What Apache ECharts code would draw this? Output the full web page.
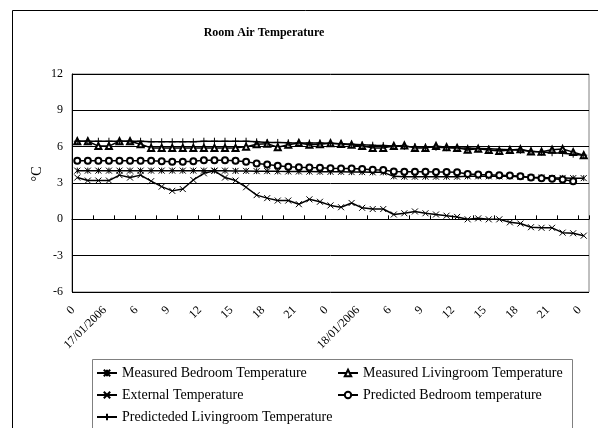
<!DOCTYPE html>
<html>
<head>
<meta charset="utf-8">
<script src="https://cdn.jsdelivr.net/npm/echarts@6/dist/echarts.min.js"></script>
<style>
  html, body { margin: 0; padding: 0; background: #fff; }
  #chart { width: 598px; height: 428px; }
</style>
</head>
<body>
<div id="chart"></div>
<script>
// hourly readings, 17/01/2006 00:00 to 19/01/2006 00:00
var hours = ['0', '1', '2', '17/01/2006', '4', '5', '6', '7', '8', '9', '10', '11',
  '12', '13', '14', '15', '16', '17', '18', '19', '20', '21', '22', '23',
  '0', '1', '2', '18/01/2006', '4', '5', '6', '7', '8', '9', '10', '11',
  '12', '13', '14', '15', '16', '17', '18', '19', '20', '21', '22', '23', '0'];

var measuredBedroom = [4.02, 4.02, 4.02, 4.02, 4.02, 4.02, 4.02, 4.02, 4.02, 4.02, 4.02, 4.02,
  4.02, 4.02, 4.02, 4.0, 4.0, 3.98, 3.98, 3.96, 3.95, 3.95, 3.94, 3.93,
  3.92, 3.92, 3.9, 3.9, 3.88, 3.88, 3.55, 3.52, 3.52, 3.52, 3.52, 3.52,
  3.52, 3.55, 3.55, 3.55, 3.55, 3.55, 3.52, 3.45, 3.45, 3.42, 3.42, 3.4, 3.4];

var measuredLiving = [6.45, 6.45, 6.05, 6.05, 6.45, 6.45, 6.2, 5.9, 5.9, 5.9, 5.9, 5.9,
  5.9, 5.9, 5.9, 5.9, 6.0, 6.2, 6.25, 5.95, 6.15, 6.3, 6.15, 6.2,
  6.28, 6.22, 6.15, 6.05, 5.9, 5.9, 6.05, 6.1, 5.9, 5.88, 6.05, 5.95,
  5.9, 5.75, 5.82, 5.72, 5.65, 5.72, 5.78, 5.6, 5.58, 5.75, 5.8, 5.55, 5.3];

var external = [3.45, 3.2, 3.2, 3.2, 3.65, 3.45, 3.65, 3.15, 2.7, 2.35, 2.5, 3.25,
  3.8, 4.0, 3.45, 3.2, 2.65, 2.0, 1.75, 1.55, 1.55, 1.25, 1.65, 1.45,
  1.15, 1.0, 1.35, 0.95, 0.85, 0.85, 0.4, 0.5, 0.65, 0.5, 0.4, 0.3,
  0.2, 0.0, 0.08, 0.0, 0.0, -0.25, -0.35, -0.65, -0.7, -0.7, -1.1, -1.15, -1.35];

var predictedBedroom = [4.83, 4.83, 4.83, 4.83, 4.83, 4.83, 4.83, 4.83, 4.8, 4.75, 4.75, 4.8,
  4.88, 4.88, 4.88, 4.83, 4.75, 4.62, 4.52, 4.42, 4.35, 4.3, 4.27, 4.25,
  4.22, 4.2, 4.2, 4.15, 4.1, 4.08, 3.95, 3.92, 3.92, 3.92, 3.9, 3.9,
  3.88, 3.75, 3.7, 3.68, 3.65, 3.62, 3.55, 3.45, 3.4, 3.35, 3.28, 3.15, null];

var predictedLiving = [6.45, 6.45, 6.45, 6.45, 6.45, 6.45, 6.45, 6.4, 6.4, 6.4, 6.4, 6.4,
  6.45, 6.45, 6.45, 6.45, 6.45, 6.4, 6.35, 6.35, 6.32, 6.3, 6.3, 6.3,
  6.28, 6.25, 6.2, 6.15, 6.12, 6.1, 6.05, 6.02, 6.0, 5.98, 5.95, 5.92,
  5.9, 5.88, 5.85, 5.82, 5.78, 5.75, 5.7, 5.62, 5.56, 5.5, 5.45, 5.38, 5.3];

var yTicks = { min: -6, max: 12, interval: 3 };

var serif = "'Liberation Serif', 'DejaVu Serif', serif";

// marker shapes like the excel ones
var starPath = 'path://M0,0L10,10M10,0L0,10M5,0L5,10';
var crossPath = 'path://M0,0L10,10M10,0L0,10';
var plusPath = 'path://M5,0L5,10M0,5L10,5';

function makeSeries(name, values, symbol, size) {
  return {
    name: name,
    type: 'line',
    data: values,
    symbol: symbol,
    symbolSize: size,
    showAllSymbol: true,
    connectNulls: false,
    lineStyle: { color: '#000', width: 1.5 },
    itemStyle: { color: '#000', borderColor: '#000', borderWidth: 1 },
    emphasis: { disabled: true }
  };
}

var chart = echarts.init(document.getElementById('chart'), null, { renderer: 'canvas' });

var legendText = { fontFamily: serif, fontSize: 14, color: '#000', lineHeight: 14 };

var option = {
  animation: false,
  backgroundColor: '#fff',
  title: {
    text: 'Room Air Temperature',
    left: 259,
    top: 22,
    textAlign: 'center',
    textStyle: { fontFamily: serif, fontSize: 12, fontWeight: 'bold', color: '#000' }
  },
  graphic: [
    {
      type: 'rect',
      shape: { x: 12.5, y: 10.5, width: 700, height: 500 },
      style: { fill: 'none', stroke: '#000', lineWidth: 1 },
      silent: true,
      z: -1
    },
    {
      type: 'rect',
      shape: { x: 92.5, y: 359.5, width: 480, height: 100 },
      style: { fill: 'none', stroke: '#808080', lineWidth: 1 },
      silent: true,
      z: -1
    },
    {
      // y axis title
      type: 'text',
      x: 37,
      y: 174,
      rotation: Math.PI / 2,
      style: {
        text: '°C',
        fontFamily: serif,
        fontSize: 14,
        fill: '#000',
        align: 'center',
        verticalAlign: 'middle'
      },
      silent: true
    }
  ],
  legend: [
    {
      orient: 'vertical',
      left: 96,
      top: 366,
      height: 70,
      padding: 0,
      itemWidth: 20,
      itemHeight: 8,
      itemGap: 8,
      selectedMode: false,
      textStyle: legendText,
      data: ['Measured Bedroom Temperature', 'External Temperature', 'Predicteded Livingroom Temperature']
    },
    {
      orient: 'vertical',
      left: 337,
      top: 366,
      height: 70,
      padding: 0,
      itemWidth: 20,
      itemHeight: 8,
      itemGap: 8,
      selectedMode: false,
      textStyle: legendText,
      data: ['Measured Livingroom Temperature', 'Predicted Bedroom temperature']
    }
  ],
  grid: {
    left: 72,
    right: 9,
    top: 74,
    bottom: 136,
    show: true,
    borderColor: '#808080',
    borderWidth: 1
  },
  xAxis: {
    type: 'category',
    data: hours,
    boundaryGap: true,
    axisLine: { lineStyle: { color: '#000', width: 1 } },
    axisTick: { show: true, inside: true, length: 4, interval: 1, lineStyle: { color: '#000' } },
    axisLabel: {
      interval: 2,
      rotate: 45,
      margin: 12,
      padding: [0, 6, 0, 0],
      fontFamily: serif,
      fontSize: 12,
      color: '#000'
    },
    splitLine: { show: false }
  },
  yAxis: {
    type: 'value',
    min: yTicks.min,
    max: yTicks.max,
    interval: yTicks.interval,
    axisLine: { show: true, lineStyle: { color: '#000', width: 1 } },
    axisTick: { show: false },
    axisLabel: { margin: 9, fontFamily: serif, fontSize: 12, color: '#000' },
    splitLine: { show: true, lineStyle: { color: '#000', width: 1 } }
  },
  series: [
    makeSeries('Measured Bedroom Temperature', measuredBedroom, starPath, 6),
    makeSeries('Measured Livingroom Temperature', measuredLiving, 'emptyTriangle', 6),
    makeSeries('External Temperature', external, crossPath, 6),
    makeSeries('Predicted Bedroom temperature', predictedBedroom, 'emptyCircle', 6),
    makeSeries('Predicteded Livingroom Temperature', predictedLiving, plusPath, 7)
  ]
};

chart.setOption(option);
</script>
</body>
</html>
